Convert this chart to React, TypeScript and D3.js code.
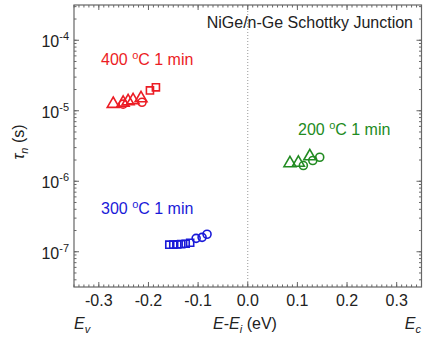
import React from "react";
import * as d3 from "d3";

const W = 423;
const H = 339;

const xTicks = [-0.3, -0.2, -0.1, 0.0, 0.1, 0.2, 0.3];
const yDecades = [-4, -5, -6, -7];

// 400 °C 1 min (red)
const red400Tri = [
  { e: -0.271, tau: 1.25e-5 },
  { e: -0.251, tau: 1.3e-5 },
  { e: -0.241, tau: 1.36e-5 },
  { e: -0.231, tau: 1.41e-5 },
  { e: -0.215, tau: 1.5e-5 },
];
const red400Circ = [
  { e: -0.251, tau: 1.24e-5 },
  { e: -0.213, tau: 1.32e-5 },
];
const red400Sq = [
  { e: -0.197, tau: 1.94e-5 },
  { e: -0.185, tau: 2.15e-5 },
];

// 300 °C 1 min (blue)
const blue300Sq = [
  { e: -0.158, tau: 1.26e-7 },
  { e: -0.15, tau: 1.26e-7 },
  { e: -0.142, tau: 1.27e-7 },
  { e: -0.134, tau: 1.28e-7 },
  { e: -0.125, tau: 1.3e-7 },
  { e: -0.116, tau: 1.34e-7 },
];
const blue300Circ = [
  { e: -0.104, tau: 1.55e-7 },
  { e: -0.092, tau: 1.6e-7 },
  { e: -0.082, tau: 1.77e-7 },
];

// 200 °C 1 min (green)
const green200Tri = [
  { e: 0.085, tau: 1.8e-6 },
  { e: 0.102, tau: 1.83e-6 },
  { e: 0.125, tau: 2.26e-6 },
];
const green200Circ = [
  { e: 0.112, tau: 1.67e-6 },
  { e: 0.131, tau: 1.97e-6 },
  { e: 0.145, tau: 2.19e-6 },
];

const RED = "#ec1c24";
const BLUE = "#1a1ad8";
const GREEN = "#228b22";

export default function App() {
  const left = 74, right = 421.5, top = 5, bottom = 287;
  const x = d3.scaleLinear().domain([-0.35, 0.35]).range([left, right]);
  const y = d3.scaleLog().domain([10 ** -7.5, 10 ** -3.5]).range([bottom, top]);

  const tri = d3.symbol(d3.symbolTriangle, 62)();
  const sq = d3.symbol(d3.symbolSquare, 50)();

  const xMinor = d3.range(-35, 36).map((v) => v / 100);
  const yMinor: number[] = [];
  for (let p = -8; p <= -3; p++) {
    for (let m = 1; m <= 9; m++) {
      const v = m * 10 ** p;
      if (v >= 10 ** -7.5 && v <= 10 ** -3.5) yMinor.push(v);
    }
  }

  const axisColor = "#666";
  const font = "Liberation Sans, Arial, sans-serif";

  const markers = (
    data: { e: number; tau: number }[],
    kind: string,
    color: string
  ) =>
    data.map((d, i) =>
      kind === "circle" ? (
        <circle key={kind + i} cx={x(d.e)} cy={y(d.tau)} r={4} fill="none" stroke={color} strokeWidth={1.6} />
      ) : (
        <path
          key={kind + i}
          d={kind === "tri" ? tri! : sq!}
          transform={`translate(${x(d.e)},${y(d.tau)})`}
          fill="none"
          stroke={color}
          strokeWidth={1.6}
        />
      )
    );

  return (
    <svg width={W} height={H} style={{ position: "absolute", left: 0, top: 0, background: "#fff" }} fontFamily={font}>
      {/* dotted zero line */}
      <line x1={x(0)} x2={x(0)} y1={top} y2={bottom} stroke="#999" strokeWidth={1} strokeDasharray="1,2" />

      {/* minor x ticks */}
      {xMinor.map((v, i) => (
        <g key={"xm" + i} stroke={axisColor} strokeWidth={1}>
          <line x1={x(v)} x2={x(v)} y1={bottom} y2={bottom - 2.5} />
          <line x1={x(v)} x2={x(v)} y1={top} y2={top + 2.5} />
        </g>
      ))}
      {xTicks.map((v, i) => (
        <g key={"xt" + i}>
          <line x1={x(v)} x2={x(v)} y1={bottom} y2={bottom - 5} stroke={axisColor} />
          <line x1={x(v)} x2={x(v)} y1={top} y2={top + 5} stroke={axisColor} />
          <text x={x(v)} y={306} textAnchor="middle" fontSize={16} fill="#222">
            {d3.format(".1f")(v).replace("−", "-")}
          </text>
        </g>
      ))}
      {yMinor.map((v, i) => (
        <g key={"ym" + i} stroke={axisColor} strokeWidth={1}>
          <line x1={left} x2={left + 2.5} y1={y(v)} y2={y(v)} />
          <line x1={right} x2={right - 2.5} y1={y(v)} y2={y(v)} />
        </g>
      ))}
      {yDecades.map((p) => (
        <g key={"yt" + p}>
          <line x1={left} x2={left + 5} y1={y(10 ** p)} y2={y(10 ** p)} stroke={axisColor} />
          <line x1={right} x2={right - 5} y1={y(10 ** p)} y2={y(10 ** p)} stroke={axisColor} />
          <text x={69} y={y(10 ** p) + 7} textAnchor="end" fontSize={16} fill="#222">
            10
            <tspan fontSize={11} dy={-7}>
              {"-" + Math.abs(p)}
            </tspan>
          </text>
        </g>
      ))}

      {/* frame */}
      <rect x={left} y={top} width={right - left} height={bottom - top} fill="none" stroke={axisColor} strokeWidth={1.2} />

      {/* data */}
      {markers(red400Circ, "circle", RED)}
      {markers(red400Tri, "tri", RED)}
      {markers(red400Sq, "sq", RED)}
      {markers(blue300Sq, "sq", BLUE)}
      {markers(blue300Circ, "circle", BLUE)}
      {markers(green200Circ, "circle", GREEN)}
      {markers(green200Tri, "tri", GREEN)}

      {/* title */}
      <text x={413} y={28} textAnchor="end" fontSize={16} fill="#222">
        NiGe/n-Ge Schottky Junction
      </text>

      {/* series labels */}
      <text x={101} y={65} fontSize={16} fill={RED}>
        400 <tspan fontSize={11} dy={-6}>o</tspan>
        <tspan dy={6}>C 1 min</tspan>
      </text>
      <text x={101} y={214} fontSize={16} fill={BLUE}>
        300 <tspan fontSize={11} dy={-6}>o</tspan>
        <tspan dy={6}>C 1 min</tspan>
      </text>
      <text x={298} y={135} fontSize={16} fill={GREEN}>
        200 <tspan fontSize={11} dy={-6}>o</tspan>
        <tspan dy={6}>C 1 min</tspan>
      </text>

      {/* x axis labels */}
      <text x={74} y={329} fontSize={16} fill="#222">
        <tspan fontStyle="italic">E</tspan>
        <tspan fontStyle="italic" fontSize={11} dy={4}>v</tspan>
      </text>
      <text x={245} y={329} textAnchor="middle" fontSize={16} fill="#222">
        <tspan fontStyle="italic">E</tspan>-<tspan fontStyle="italic">E</tspan>
        <tspan fontStyle="italic" fontSize={11} dy={4}>i</tspan>
        <tspan dy={-4}> (eV)</tspan>
      </text>
      <text x={421} y={329} textAnchor="end" fontSize={16} fill="#222">
        <tspan fontStyle="italic">E</tspan>
        <tspan fontStyle="italic" fontSize={11} dy={4}>c</tspan>
      </text>

      {/* y axis label */}
      <text transform="translate(24,142) rotate(-90)" textAnchor="middle" fontSize={16} fill="#222">
        <tspan fontStyle="italic">τ</tspan>
        <tspan fontStyle="italic" fontSize={11} dy={4}>n</tspan>
        <tspan dy={-4}> (s)</tspan>
      </text>
    </svg>
  );
}
